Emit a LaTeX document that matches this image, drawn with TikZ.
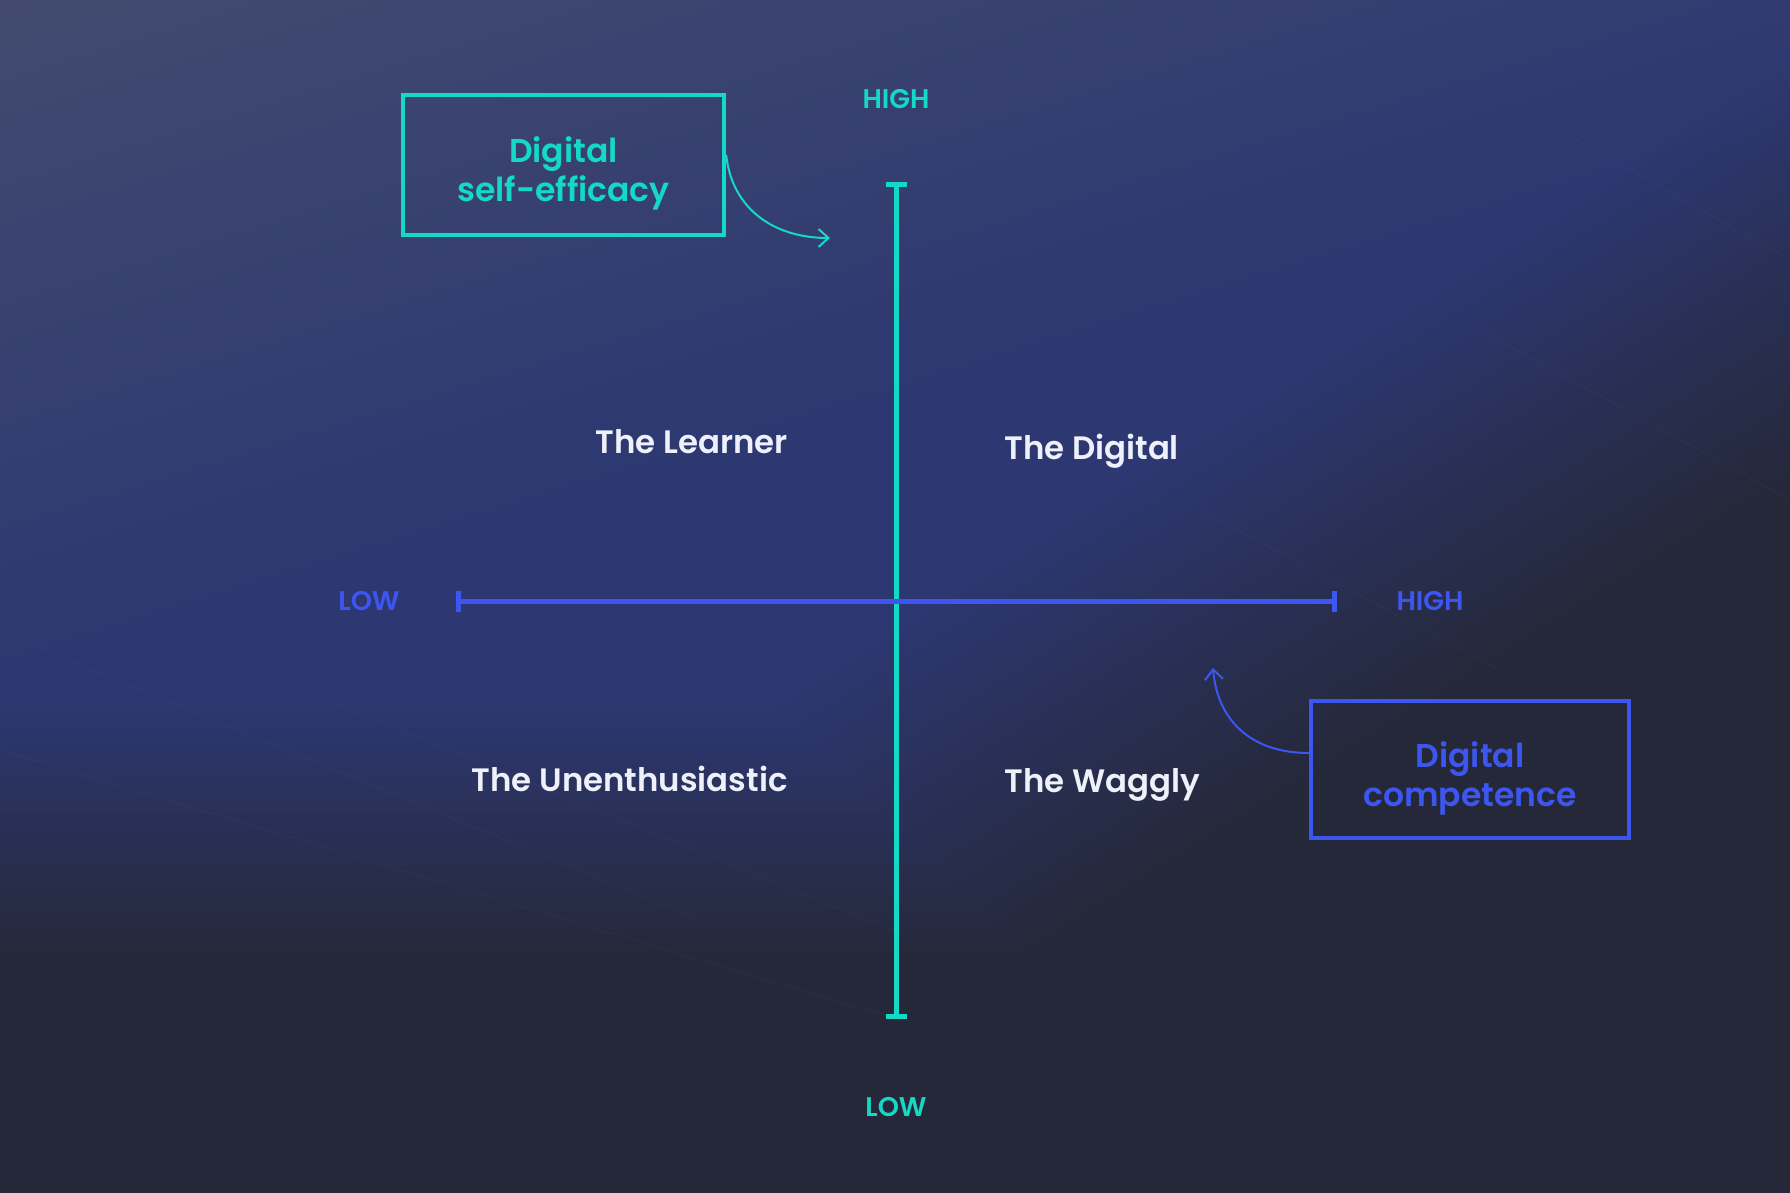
\documentclass[tikz,border=0pt]{standalone}
\usepackage{fontspec}
\setmainfont{Poppins}[BoldFont={Poppins SemiBold}]
\usetikzlibrary{arrows.meta}
\definecolor{tealc}{HTML}{14D9C6}
\definecolor{bluec}{HTML}{3D56F0}
\definecolor{whitec}{HTML}{EEF0FA}
\pgfdeclarefunctionalshading{bgshade}{\pgfpoint{0bp}{0bp}}{\pgfpoint{100bp}{100bp}}{}{
  75 exch sub 23.86 mul
  exch 25 sub 35.8 mul
  exch
  1 index 0.2924 mul 1 index 0.9563 mul add 650 div
  dup 0 lt {pop 0} if dup 1 gt {pop 1} if
  1 index 700 sub 260 div dup 0 lt {pop 0} if dup 1 gt {pop 1} if
  3 index 0.53 mul 3 index 0.848 mul add 1000 sub 360 div dup 0 lt {pop 0} if dup 1 gt {pop 1} if
  2 copy lt {exch} if pop
  4 2 roll pop pop
  1 index -0.083 mul 0.259 add 1 index 1 exch sub mul 1 index 0.145 mul add
  2 index -0.078 mul 0.294 add 2 index 1 exch sub mul 2 index 0.157 mul add
  3 index 0.008 mul 0.435 add 3 index 1 exch sub mul 3 index 0.224 mul add
  5 3 roll pop pop
}
\tikzset{
  axislbl/.style={font=\bfseries\fontsize{13.5}{16}\selectfont, inner sep=0pt},
  quadlbl/.style={font=\bfseries\fontsize{16.2}{20}\selectfont, text=whitec, inner sep=0pt},
  boxtxt/.style={font=\bfseries\fontsize{16.5}{19.5}\selectfont, align=center, inner sep=0pt},
  boxframe/.style={line width=2.2pt, inner sep=0pt},
  axisline/.style={line width=2.5pt},
  pointer/.style={line width=1pt, -{Straight Barb[length=5pt,width=9pt]}},
  streak/.style={white, opacity=0.022, line width=0.6pt},
}
\begin{document}
\begin{tikzpicture}[x=0.5pt,y=-0.5pt]
\useasboundingbox (0,0) rectangle (1790,1193);
% background gradient
\shade[shading=bgshade] (0,0) rectangle (1790,1193);
% faint streaks
\begin{scope}
\clip (0,0) rectangle (1790,1193);
\draw[streak] (0,632) -- (700,920);
\draw[streak] (0,750) -- (900,1020);
\draw[streak] (310,693) -- (900,933);
\draw[streak] (1200,510) -- (1500,670);
\draw[streak] (1560,130) -- (1790,260);
\draw[streak] (1480,330) -- (1790,500);
\end{scope}
% axes
\coordinate (vt) at (896,185);
\coordinate (vb) at (896,1016);
\coordinate (hl) at (458,601);
\coordinate (hr) at (1334,601);
\draw[tealc, axisline] (vt) -- (vb);
\draw[tealc, axisline] ([xshift=-5.25pt]vt) -- ([xshift=5.25pt]vt);
\draw[tealc, axisline] ([xshift=-5.25pt]vb) -- ([xshift=5.25pt]vb);
\draw[bluec, axisline] (hl) -- (hr);
\draw[bluec, axisline] ([yshift=-5.25pt]hl) -- ([yshift=5.25pt]hl);
\draw[bluec, axisline] ([yshift=-5.25pt]hr) -- ([yshift=5.25pt]hr);
% axis labels
\node[axislbl, text=tealc] (vhigh) at (896,99) {HIGH};
\node[axislbl, text=tealc] (vlow) at (896,1107) {LOW};
\node[axislbl, text=bluec] (hlow) at (369,601) {LOW};
\node[axislbl, text=bluec] (hhigh) at (1430,601) {HIGH};
% quadrant labels
\node[quadlbl, anchor=base east] (learner) at (788,453) {The Learner};
\node[quadlbl, anchor=base west] (digital) at (1004,459) {The Digital};
\node[quadlbl, anchor=base east] (unenth) at (788,791) {The Unenthusiastic};
\node[quadlbl, anchor=base west] (waggly) at (1004,792) {The Waggly};
% boxes
\node[boxframe, draw=tealc, minimum width=160.5pt, minimum height=70pt] (selfeff) at (563.5,165) {};
\node[boxtxt, text=tealc] (selfefftxt) at (563.5,173) {Digital\\self-efficacy};
\node[boxframe, draw=bluec, minimum width=159pt, minimum height=68.5pt] (compet) at (1470,769.5) {};
\node[boxtxt, text=bluec] (compettxt) at (1470,778) {Digital\\competence};
% pointers
\coordinate (p1) at (830,238);
\coordinate (p2) at (1213,668);
\draw[tealc, pointer] ([yshift=5pt]selfeff.east) .. controls +(6,55) and +(-55,0) .. (p1);
\draw[bluec, pointer] ([yshift=8.25pt]compet.west) .. controls +(-60,0) and +(4,50) .. (p2);
\end{tikzpicture}
\end{document}
